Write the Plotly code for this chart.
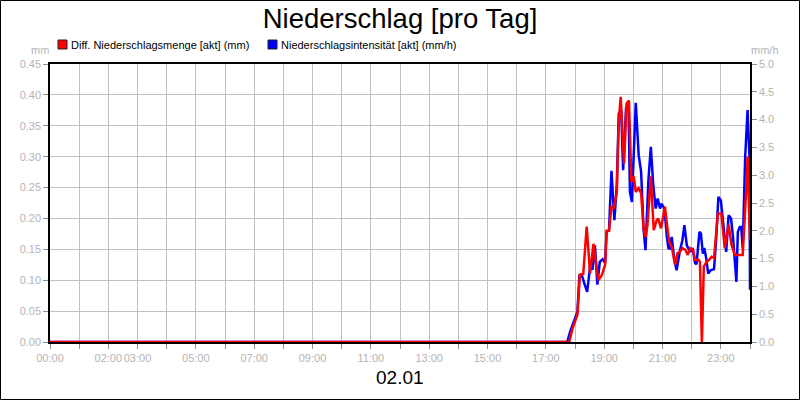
import plotly.graph_objects as go

# Niederschlagsintensität [akt] (mm/h) - right axis
blue_times = ["00:00", "17:44", "17:50", "18:00", "18:05", "18:09", "18:14", "18:20", "18:25", "18:31",
              "18:36", "18:41", "18:46", "18:51", "18:57", "19:02", "19:05", "19:10", "19:15", "19:21",
              "19:26", "19:30", "19:35", "19:39", "19:45", "19:50", "19:53", "19:57", "20:05", "20:11",
              "20:16", "20:21", "20:25", "20:31", "20:36", "20:41", "20:46", "20:50", "20:55", "20:58",
              "21:04", "21:09", "21:12", "21:15", "21:19", "21:24", "21:29", "21:36", "21:41", "21:45",
              "21:50", "21:57", "22:02", "22:07", "22:10", "22:16", "22:19", "22:23", "22:26", "22:30",
              "22:34", "22:39", "22:46", "22:50", "22:55", "23:00", "23:06", "23:11", "23:16", "23:21",
              "23:25", "23:28", "23:32", "23:35", "23:39", "23:42", "23:45", "23:50", "23:55", "23:59",
              "24:00"]
blue_values = [0, 0, 0.185, 0.43, 0.545, 1.19, 1.2, 1.03, 0.9, 1.35,
               1.3, 1.74, 1.03, 1.44, 1.49, 1.42, 1.98, 2.01, 3.08, 2.19,
               2.82, 4.11, 4.17, 3.09, 4.21, 4.29, 2.70, 2.52, 4.30, 3.36,
               3.06, 2.04, 1.65, 2.91, 3.51, 2.82, 2.40, 2.58, 2.40, 2.49,
               2.40, 1.89, 1.69, 1.68, 1.89, 1.50, 1.29, 1.65, 1.83, 2.10,
               1.74, 1.62, 1.69, 1.42, 1.40, 1.98, 1.95, 1.59, 1.69, 1.50,
               1.23, 1.29, 1.31, 1.80, 2.61, 2.55, 2.01, 1.62, 2.28, 2.22,
               1.89, 1.56, 1.08, 1.98, 2.07, 2.07, 1.68, 3.31, 4.17, 3.31,
               0.94]

# Diff. Niederschlagsmenge [akt] (mm) - left axis
red_times = ["00:00", "17:48", "17:55", "18:05", "18:10", "18:17", "18:24", "18:31", "18:38", "18:48",
             "18:55", "19:02", "19:05", "19:10", "19:15", "19:20", "19:26", "19:30", "19:34", "19:41",
             "19:46", "19:51", "19:56", "20:01", "20:05", "20:11", "20:16", "20:21", "20:25", "20:29",
             "20:36", "20:42", "20:48", "20:51", "20:57", "21:05", "21:11", "21:14", "21:19", "21:26",
             "21:31", "21:36", "21:41", "21:47", "21:52", "21:57", "22:03", "22:07", "22:14", "22:17",
             "22:21", "22:25", "22:31", "22:36", "22:41", "22:46", "22:54", "23:01", "23:08", "23:16",
             "23:22", "23:29", "23:36", "23:45", "23:52", "23:55", "24:00"]
red_values = [0, 0, 0.022, 0.044, 0.109, 0.110, 0.187, 0.111, 0.159, 0.100,
              0.108, 0.125, 0.180, 0.180, 0.219, 0.217, 0.243, 0.357, 0.397, 0.289,
              0.386, 0.391, 0.259, 0.268, 0.243, 0.249, 0.241, 0.184, 0.170, 0.189,
              0.268, 0.181, 0.197, 0.200, 0.184, 0.219, 0.178, 0.162, 0.154, 0.125,
              0.144, 0.146, 0.152, 0.149, 0.141, 0.152, 0.149, 0.133, 0.133, 0.130,
              0.0, 0.122, 0.130, 0.133, 0.138, 0.136, 0.208, 0.208, 0.152, 0.190,
              0.157, 0.141, 0.141, 0.141, 0.243, 0.300, 0.165]

hour_ticks = list(range(25))
hour_labels = ["00:00", "", "02:00", "03:00", "", "05:00", "", "07:00", "", "09:00", "", "11:00", "",
               "13:00", "", "15:00", "", "17:00", "", "19:00", "", "21:00", "", "23:00", ""]


def to_hours(times):
    out = []
    for t in times:
        h, m = t.split(":")
        out.append(int(h) + int(m) / 60)
    return out


grey = "#b4b4b4"
font = "Liberation Sans, Arial, sans-serif"

fig = go.Figure()
fig.add_trace(go.Scatter(x=to_hours(blue_times), y=blue_values, mode="lines", yaxis="y",
                         line=dict(color="#0000ff", width=2.5), name="Niederschlagsintensität [akt] (mm/h)"))
fig.add_trace(go.Scatter(x=to_hours(red_times), y=red_values, mode="lines", yaxis="y2",
                         line=dict(color="#ff0000", width=2.5), name="Diff. Niederschlagsmenge [akt] (mm)"))

fig.update_layout(
    width=800, height=400,
    margin=dict(l=50, r=50, t=64, b=58, autoexpand=False),
    paper_bgcolor="white", plot_bgcolor="white",
    showlegend=False,
    font=dict(family=font, size=11, color=grey),
    title=dict(text="Niederschlag [pro Tag]", x=0.5, xanchor="center", y=0.955, yanchor="middle",
               font=dict(size=27.5, color="black", family=font)),
    xaxis=dict(range=[0, 24], tickvals=hour_ticks, ticktext=hour_labels, showgrid=True,
               gridcolor="#c0c0c0", gridwidth=1, showline=True, linecolor="black", linewidth=1.5,
               mirror=True, ticks="outside", ticklen=5, tickcolor="#909090", zeroline=False,
               tickangle=0, automargin=False, tickfont=dict(size=11, color=grey)),
    yaxis=dict(range=[0, 5.0], dtick=0.5, tickformat=".1f", side="right", showgrid=False,
               showline=True, linecolor="black", linewidth=1.5, ticks="outside", ticklen=5,
               tickcolor="#909090", zeroline=False, automargin=False, tickfont=dict(size=11, color=grey)),
    yaxis2=dict(range=[0, 0.45], dtick=0.05, tickformat=".2f", side="left", overlaying="y",
                showgrid=True, gridcolor="#c0c0c0", gridwidth=1, showline=True, linecolor="black",
                linewidth=1.5, ticks="outside", ticklen=5, tickcolor="#909090", zeroline=False,
                automargin=False, tickfont=dict(size=11, color=grey)),
)

# hand-made legend (square swatches like the original)
legend_items = [("Diff. Niederschlagsmenge [akt] (mm)", "#ff0000", 58),
                ("Niederschlagsintensität [akt] (mm/h)", "#0000ff", 268)]
for text, col, px0 in legend_items:
    fig.add_shape(type="rect", xref="paper", yref="paper",
                  x0=(px0 - 50) / 700, x1=(px0 + 9 - 50) / 700,
                  y0=(342 - 49) / 278, y1=(342 - 40) / 278,
                  fillcolor=col, line=dict(color="#202020", width=1))
    fig.add_annotation(text=text, xref="paper", yref="paper", x=(px0 + 11 - 50) / 700,
                       y=(342 - 44.5) / 278, xanchor="left", yanchor="middle", showarrow=False,
                       font=dict(size=11, color="black", family=font))

fig.add_annotation(text="mm", xref="paper", yref="paper", x=(40 - 50) / 700, y=(342 - 50) / 278,
                   xanchor="center", yanchor="middle", showarrow=False, font=dict(size=11, color=grey))
fig.add_annotation(text="mm/h", xref="paper", yref="paper", x=(765 - 50) / 700, y=(342 - 50) / 278,
                   xanchor="center", yanchor="middle", showarrow=False, font=dict(size=11, color=grey))
fig.add_annotation(text="02.01", xref="paper", yref="paper", x=(400 - 50) / 700, y=(342 - 377) / 278,
                   xanchor="center", yanchor="middle", showarrow=False,
                   font=dict(size=19, color="black", family=font))

# outer frame
fig.add_shape(type="rect", xref="paper", yref="paper",
              x0=(0.5 - 50) / 700, x1=(799.5 - 50) / 700,
              y0=(342 - 399.5) / 278, y1=(342 - 0.5) / 278,
              line=dict(color="black", width=1), fillcolor="rgba(0,0,0,0)")

# drop the default page margin so the 800x400 figure fills the window exactly
fig.write_html("out.html", config={"displayModeBar": False},
               post_script="document.body.style.margin='0px';")
